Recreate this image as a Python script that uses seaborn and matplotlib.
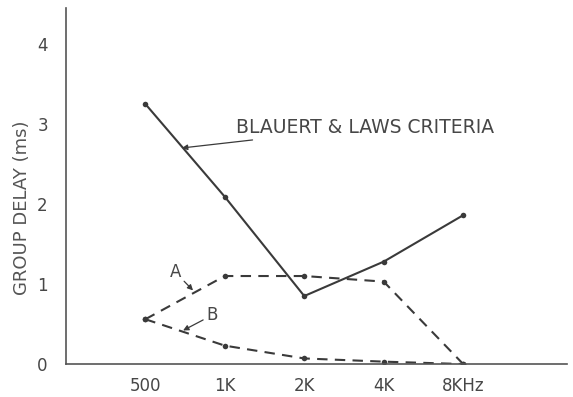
import matplotlib
matplotlib.use('Agg')
import matplotlib.pyplot as plt
import seaborn as sns
import pandas as pd

# Werte
freqs = ['500', '1K', '2K', '4K', '8KHz']
criteria = [3.25, 2.09, 0.85, 1.28, 1.86]
curve_a = [0.56, 1.10, 1.10, 1.03, 0.0]
curve_b = [0.56, 0.23, 0.07, 0.03, 0.0]

pos = list(range(len(freqs)))
df = pd.DataFrame({'pos': pos * 3,
                   'delay': criteria + curve_a + curve_b,
                   'kurve': ['crit'] * 5 + ['A'] * 5 + ['B'] * 5})

sns.set_style('white')
plt.rcParams['font.family'] = ['DejaVu Sans']
ink = '#3a3a3a'
txt = '#474747'

fig = plt.figure(figsize=(5.73, 3.97), dpi=100)
ax = fig.add_axes([0.115, 0.083, 0.875, 0.897])

sns.lineplot(data=df[df.kurve == 'crit'], x='pos', y='delay', color=ink, lw=1.5,
             marker='o', markersize=4, markeredgewidth=0, ax=ax)
for k in ['A', 'B']:
    sns.lineplot(data=df[df.kurve == k], x='pos', y='delay', color=ink, lw=1.5,
                 linestyle=(0, (5, 3.5)), marker='o', markersize=4,
                 markeredgewidth=0, ax=ax)

ax.set_xlim(-1, 5.31)
ax.set_ylim(0, 4.45)
ax.set_xticks(pos)
ax.set_xticklabels(freqs)
ax.set_yticks([0, 1, 2, 3, 4])
ax.set_yticklabels(['0', '1', '2', '3', '4'])
ax.tick_params(axis='both', direction='inout', length=6, width=1, color=ink,
               labelcolor=txt, labelsize=12)
ax.tick_params(axis='y', pad=10)
ax.tick_params(axis='x', pad=6)
ax.set_xlabel('')
ax.set_ylabel('GROUP DELAY (ms)', fontsize=13, color='#555555')
ax.yaxis.set_label_coords(-0.07, 0.44)
sns.despine(ax=ax)
for s in ['left', 'bottom']:
    ax.spines[s].set_color('#555555')
    ax.spines[s].set_linewidth(1.2)

arrow = dict(arrowstyle='-|>', color=ink, lw=0.9, mutation_scale=8, shrinkA=0, shrinkB=0)
ax.annotate('BLAUERT & LAWS CRITERIA', xy=(0.46, 2.7), xytext=(1.14, 2.96),
            fontsize=13.5, color=txt, va='center', ha='left', arrowprops=arrow)
ax.annotate('A', xy=(0.6, 0.92), xytext=(0.375, 1.15), fontsize=12, color=txt,
            va='center', ha='center', arrowprops=arrow)
ax.annotate('B', xy=(0.475, 0.42), xytext=(0.84, 0.61), fontsize=12, color=txt,
            va='center', ha='center', arrowprops=arrow)

fig.savefig('out.png', dpi=100)
